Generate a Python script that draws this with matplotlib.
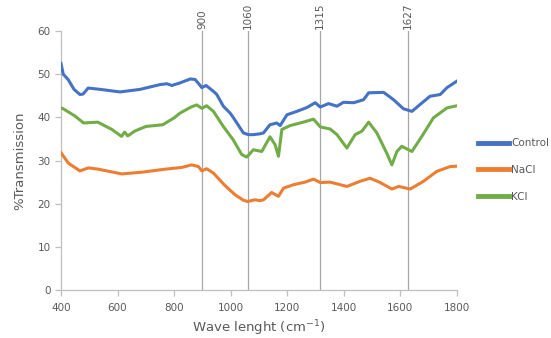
import matplotlib
matplotlib.use("Agg")
import matplotlib.pyplot as plt

# Data
ctrl_x = [400, 408, 425, 446, 467, 478, 496, 538, 609, 680, 750, 774, 792, 821, 857, 874, 892, 898,
          913, 938, 951, 974, 998, 1010, 1033, 1045, 1063, 1080, 1104, 1116, 1139, 1163, 1175, 1199,
          1234, 1270, 1299, 1317, 1346, 1376, 1399, 1435, 1470, 1488, 1541, 1576, 1611, 1641, 1670,
          1705, 1741, 1765, 1800]
ctrl_y = [52.5, 50.0, 48.8, 46.5, 45.3, 45.4, 46.8, 46.5, 45.9, 46.5, 47.6, 47.8, 47.4, 48.0, 48.9,
          48.8, 47.4, 46.9, 47.4, 46.1, 45.3, 42.6, 41.0, 39.9, 37.6, 36.4, 36.0, 36.0, 36.2, 36.4,
          38.3, 38.7, 38.1, 40.6, 41.4, 42.3, 43.4, 42.4, 43.2, 42.6, 43.5, 43.4, 44.1, 45.7, 45.8,
          44.1, 42.0, 41.4, 43.0, 44.9, 45.3, 46.9, 48.4]

nacl_x = [400, 426, 467, 497, 532, 615, 686, 768, 827, 862, 886, 898, 915, 939, 980, 1015, 1045, 1060,
          1085, 1104, 1116, 1145, 1169, 1187, 1222, 1263, 1293, 1317, 1352, 1411, 1458, 1493, 1529,
          1570, 1594, 1635, 1682, 1729, 1776, 1800]
nacl_y = [31.8, 29.4, 27.6, 28.3, 28.0, 26.9, 27.3, 28.0, 28.4, 29.0, 28.6, 27.6, 28.1, 27.1, 24.2,
          22.1, 20.8, 20.5, 20.9, 20.7, 20.9, 22.6, 21.7, 23.6, 24.4, 25.0, 25.7, 24.9, 25.0, 24.0,
          25.2, 25.9, 24.9, 23.4, 24.0, 23.4, 25.2, 27.5, 28.6, 28.7]

kcl_x = [400, 408, 450, 480, 530, 580, 614, 625, 636, 660, 700, 760, 800, 821, 860, 880, 898, 915, 939,
         974, 1009, 1039, 1057, 1080, 1110, 1139, 1157, 1169, 1181, 1210, 1257, 1293, 1317, 1352,
         1376, 1411, 1440, 1464, 1488, 1517, 1552, 1570, 1588, 1605, 1641, 1676, 1717, 1765, 1800]
kcl_y = [42.2, 42.0, 40.3, 38.7, 38.9, 37.2, 35.6, 36.6, 35.7, 36.8, 37.9, 38.3, 39.9, 41.0, 42.4,
         42.9, 42.1, 42.7, 41.4, 37.9, 34.8, 31.4, 30.8, 32.5, 32.1, 35.5, 33.7, 31.0, 37.2, 38.1,
         38.9, 39.6, 37.8, 37.3, 36.0, 32.9, 36.0, 36.8, 38.9, 36.4, 31.7, 29.0, 32.1, 33.3, 32.1,
         35.6, 39.9, 42.2, 42.7]

markers = [900, 1060, 1315, 1627]
xticks = [400, 600, 800, 1000, 1200, 1400, 1600, 1800]
yticks = [0, 10, 20, 30, 40, 50, 60]

fig = plt.figure(figsize=(5.51, 3.38), dpi=100)
ax = fig.add_axes([0.1107, 0.142, 0.7185, 0.766])

gray = "#bfbfbf"
tc = "#595959"

for m in markers:
    ax.axvline(m, color="#a6a6a6", lw=0.9, zorder=1)
    ax.text(m, 60.5, str(m), rotation=90, ha="center", va="bottom", fontsize=7.5, color=tc)

ax.plot(ctrl_x, ctrl_y, color="#4472C4", lw=2.2, label="Control", zorder=3)
ax.plot(nacl_x, nacl_y, color="#ED7D31", lw=2.2, label="NaCl", zorder=3)
ax.plot(kcl_x, kcl_y, color="#70AD47", lw=2.2, label="KCl", zorder=3)

ax.set_xlim(400, 1800)
ax.set_ylim(0, 60)
ax.set_xticks(xticks)
ax.set_yticks(yticks)
for s in ["top", "right"]:
    ax.spines[s].set_visible(False)
for s in ["left", "bottom"]:
    ax.spines[s].set_color(gray)
    ax.spines[s].set_linewidth(0.9)
ax.tick_params(axis="both", colors=gray, labelcolor=tc, labelsize=7.5, length=4, width=0.9)
ax.tick_params(axis="x", pad=5)

ax.set_ylabel("%Transmission", fontsize=9.5, color=tc, labelpad=8)
ax.set_xlabel("Wave lenght (cm$^{-1}$)", fontsize=9.5, color=tc, labelpad=4)

leg = ax.legend(loc="center left", bbox_to_anchor=(1.03, 0.463), frameon=False, fontsize=7.5,
                handlelength=3.0, handletextpad=0.2, labelspacing=1.6, labelcolor=tc)
for h in leg.get_lines():
    h.set_linewidth(3.5)

fig.savefig("out.png", dpi=100)
